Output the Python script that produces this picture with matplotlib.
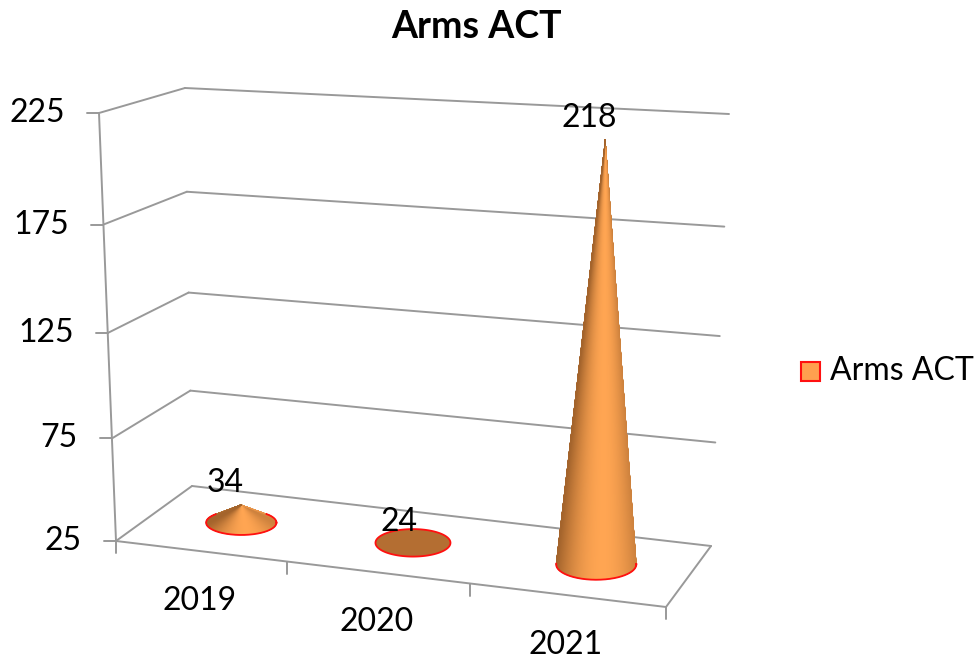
import numpy as np
import matplotlib
matplotlib.use("Agg")
import matplotlib.pyplot as plt
from matplotlib.collections import PolyCollection
from matplotlib.patches import Rectangle

categories = ["2019", "2020", "2021"]
values = [34, 24, 218]
series_name = "Arms ACT"
value_ticks = [25, 75, 125, 175, 225]

plt.rcParams["font.family"] = ["Lato", "DejaVu Sans"]

# Perspective box, in pixels of the picture
FLOOR = [(116, 541), (666, 607), (711, 546), (192, 486)]
# where three floor corners end up at the top value
TOP_OF = {(116, 541): (99, 113), (192, 486): (185, 88), (711, 546): (729, 114)}
VMIN, VMAX = value_ticks[0], value_ticks[-1]
X_WARP, V_WARP = 0.94, 0.9455


def homography(q):
    src = [(0, 0), (1, 0), (1, 1), (0, 1)]
    A, b = [], []
    for (x, y), (u, w) in zip(src, q):
        A.append([x, y, 1, 0, 0, 0, -u * x, -u * y]); b.append(u)
        A.append([0, 0, 0, x, y, 1, -w * x, -w * y]); b.append(w)
    return np.append(np.linalg.solve(np.array(A, float), np.array(b, float)), 1).reshape(3, 3)


HF = homography(FLOOR)
_M = np.array([[x, y, 1.0] for x, y in TOP_OF])
_S = np.array([[t[0] - f[0], t[1] - f[1]] for f, t in TOP_OF.items()], float)
LIFT = np.linalg.solve(_M, _S)  # affine: floor pixel -> shift to the top value


def project(c, d, v):
    """c: category units (0..n), d: depth 0..1, v: value"""
    x = c / len(categories)
    x = x * X_WARP / (1 + (X_WARP - 1) * x)
    t = (v - VMIN) / (VMAX - VMIN)
    t = t * V_WARP / (1 + (V_WARP - 1) * t)
    p = HF @ np.array([x, d, 1.0])
    p = p[:2] / p[2]
    return p + t * (np.array([p[0], p[1], 1.0]) @ LIFT)


fig = plt.figure(figsize=(9.78, 6.62), dpi=100)
ax = fig.add_axes([0, 0, 1, 1])
ax.set_xlim(0, 978)
ax.set_ylim(662, 0)
ax.axis("off")

GRID = "#999999"
LW = 1.4
FS = 23


def seg(a, b):
    ax.plot([a[0], b[0]], [a[1], b[1]], color=GRID, lw=LW, solid_capstyle="round", zorder=1)


n = len(categories)
for v in value_ticks:
    a, b, c = project(0, 0, v), project(0, 1, v), project(n, 1, v)
    seg(a, b); seg(b, c)
    seg(a, a - np.array([12, 0]))
    ax.text(a[0] - 34, a[1], str(v), ha="right", va="center", fontsize=FS, color="black")
seg(project(0, 0, VMIN), project(0, 0, VMAX))
seg(project(0, 0, VMIN), project(n, 0, VMIN))
seg(project(n, 0, VMIN), project(n, 1, VMIN))
for i in range(n + 1):
    p = project(i, 0, VMIN)
    seg(p, p + np.array([0, 12]))
for i, name in enumerate(categories):
    p = project(i + 0.5, 0, VMIN)
    ax.text(p[0] - 1, p[1] + 50, name, ha="center", va="center", fontsize=FS, color="black")

LIGHT = np.array([0xFF, 0xA5, 0x52]) / 255
DARK = np.array([0xA4, 0x64, 0x2C]) / 255
RED = "#FF1010"


def shade(s):
    # s in -1..1 across the cone, lit a little right of centre
    t = np.clip(1 - (np.abs(s - 0.15) / 1.15) ** 2, 0, 1)
    return DARK + (LIGHT - DARK) * t


A_FRAC = 0.21
NUDGE = np.array([2.0, 2.0])
for i, (name, v) in enumerate(zip(categories, values)):
    c = i + 0.5
    base = project(c, 0.53, VMIN) + NUDGE
    left, right = project(c - A_FRAC, 0.53, VMIN), project(c + A_FRAC, 0.53, VMIN)
    a = np.hypot(*(right - left)) / 2
    b = a * (0.35 + (base[1] - 522) * 0.0008)
    th = np.linspace(0, 2 * np.pi, 721)
    ex, ey = base[0] + a * np.cos(th), base[1] + b * np.sin(th)
    top = project(c, 0.53, max(v, VMIN)) + NUDGE
    if v <= VMIN:
        ax.fill(ex, ey, fc="#B46E32", ec=RED, lw=1.3, zorder=3)
        lx, ly = base[0] - 14, base[1] - 21
    else:
        tx, ty = (top[0] - base[0]) / a, (top[1] - base[1]) / b
        visible = np.cos(th) * tx + np.sin(th) * ty <= 1
        idx = np.where(visible[:-1])[0]
        idx = idx[np.argsort(-ex[idx])]  # right to left along the front arc
        polys, cols = [], []
        for k in idx:
            polys.append([(top[0], top[1]), (ex[k], ey[k]), (ex[k + 1], ey[k + 1])])
            cols.append(shade(np.cos(th[k])))
        ax.add_collection(PolyCollection(polys, facecolors=cols, edgecolors=cols, linewidths=0.4, zorder=3))
        ax.plot(np.where(visible, ex, np.nan), np.where(visible, ey, np.nan), color=RED, lw=1.3, zorder=4)
        lx, ly = top[0] - 16, top[1] - 22
    ax.text(lx, ly, str(v), ha="center", va="center", fontsize=FS, color="black", zorder=5)

ax.text(476, 27, series_name, ha="center", va="center", fontsize=27, fontweight="bold", color="black")
ax.add_patch(Rectangle((801, 362), 19, 19, fc="#FF9F4F", ec=RED, lw=1.5))
ax.text(830, 371, series_name, ha="left", va="center", fontsize=FS, color="black")

fig.savefig("out.png", dpi=100)
